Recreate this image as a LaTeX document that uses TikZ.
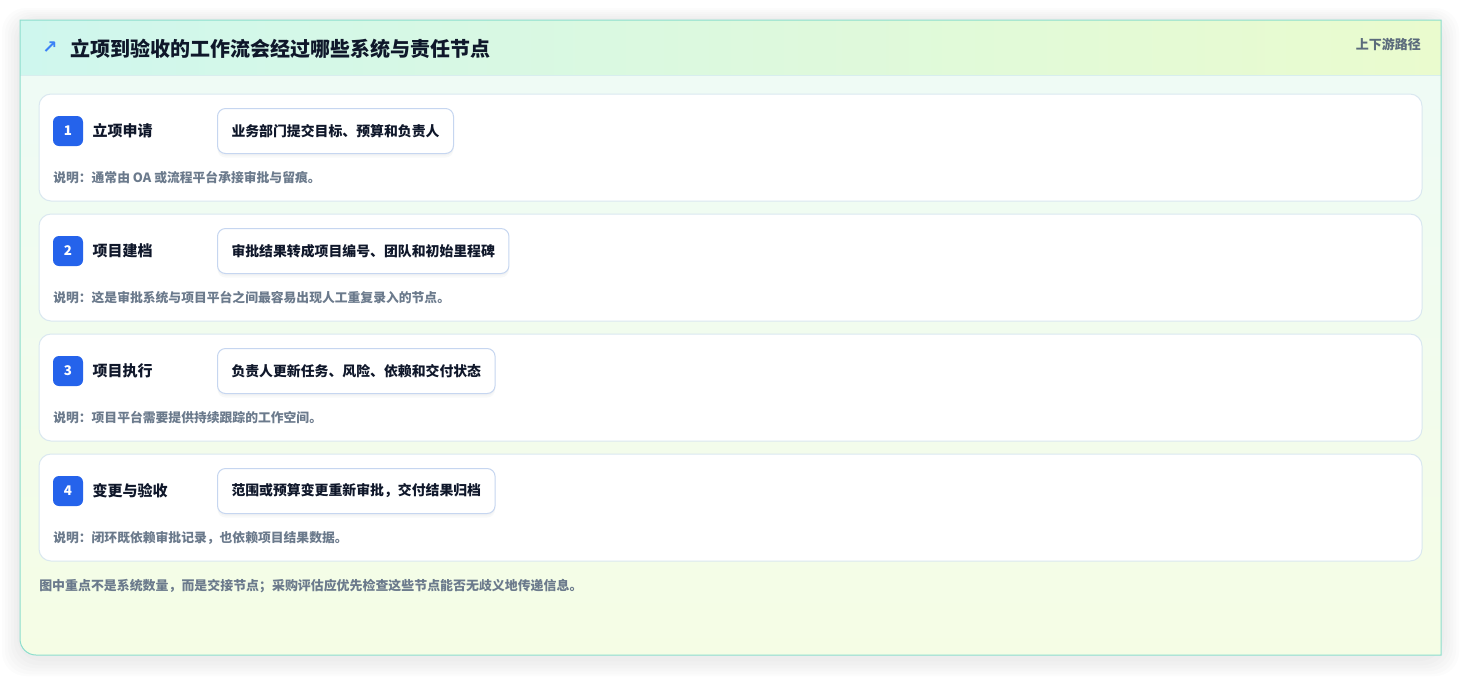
\documentclass[tikz,border=0pt]{standalone}
\usepackage{fontspec}
\setmainfont{Noto Sans CJK SC}
\newfontfamily\symfont{DejaVu Sans}
\usepackage{xcolor}
\usetikzlibrary{positioning}

\definecolor{cardline}{HTML}{8CDECD}
\definecolor{headleft}{HTML}{CFF7EE}
\definecolor{headright}{HTML}{EAFBCE}
\definecolor{bodytop}{HTML}{EEFBF7}
\definecolor{bodybottom}{HTML}{F5FDE5}
\definecolor{headrule}{HTML}{D8EEEE}
\definecolor{stepline}{HTML}{DAE8F0}
\definecolor{detailline}{HTML}{C6D6F0}
\definecolor{badgeblue}{HTML}{2563EB}
\definecolor{titleink}{HTML}{0F172A}
\definecolor{noteink}{HTML}{6B7A8C}
\definecolor{tagink}{HTML}{5B6B7C}
\definecolor{arrowblue}{HTML}{3B82F6}
\definecolor{shadowink}{HTML}{475569}

\newcommand{\cardoutline}{(20,300) -- (20,20) -- (1441,20) -- (1441,655) [rounded corners=12pt] -- (20,655) -- cycle}

\begin{document}
\begin{tikzpicture}[x=0.75pt,y=-0.75pt,
    cardshadow/.style={fill=shadowink, fill opacity=0.014, rounded corners=18pt},
    stepcard/.style={draw=stepline, fill=white, line width=0.75pt, rounded corners=9pt,
        minimum width=1037.25pt, minimum height=80.25pt, inner sep=0pt},
    badge/.style={fill=badgeblue, rounded corners=4.5pt, minimum size=22.5pt, inner sep=0pt,
        text=white, font=\fontsize{10}{12}\selectfont\bfseries},
    steplabel/.style={anchor=west, inner sep=0pt, text=titleink,
        font=\fontsize{11.25}{13}\selectfont\bfseries},
    detailbox/.style={anchor=west, draw=detailline, fill=white, line width=0.75pt, rounded corners=6pt,
        minimum height=33.75pt, inner xsep=10.5pt, text=titleink,
        font=\fontsize{10.4}{13}\selectfont\bfseries,
        preaction={fill=shadowink, fill opacity=0.035, draw=none, transform canvas={yshift=-3pt}},
        preaction={fill=shadowink, fill opacity=0.03, draw=none, transform canvas={yshift=-1.5pt}}},
    stepnote/.style={anchor=west, inner sep=0pt, text=noteink,
        font=\fontsize{9.6}{11}\selectfont\bfseries}]

    \useasboundingbox[fill=white] (0,0) rectangle (1462,676);

    % soft shadow under the card
    \fill[cardshadow] (2,8) rectangle (1459,676);
    \fill[cardshadow] (5,10) rectangle (1456,674);
    \fill[cardshadow] (8,12) rectangle (1453,671);
    \fill[cardshadow] (11,14) rectangle (1450,668);
    \fill[cardshadow] (14,16) rectangle (1447,665);
    \fill[cardshadow] (17,18) rectangle (1444,661);

    % card with header band
    \shade[top color=bodytop, bottom color=bodybottom] \cardoutline;
    \begin{scope}
        \clip \cardoutline;
        \shade[left color=headleft, right color=headright] (20,20) rectangle (1441,75);
    \end{scope}
    \draw[headrule, line width=0.75pt] (20,75) -- (1441,75);
    \draw[cardline, line width=0.75pt] \cardoutline;

    \node[text=arrowblue, inner sep=0pt, font=\symfont\bfseries\fontsize{13.5}{15}\selectfont] (arrow) at (50,48) {↗};
    \node[anchor=west, inner sep=0pt, text=titleink, font=\fontsize{15}{18}\selectfont\bfseries] (title) at (70,49) {立项到验收的工作流会经过哪些系统与责任节点};
    \node[anchor=east, inner sep=0pt, text=tagink, font=\fontsize{9.75}{12}\selectfont\bfseries] (tag) at (1421,44) {上下游路径};

    % step 1
    \node[stepcard] (card1) at (730.5,147.5) {};
    \node[badge] (badge1) at (68,131) {1};
    \node[steplabel, right=6.75pt of badge1] (label1) {立项申请};
    \node[detailbox] (detail1) at (217,131) {业务部门提交目标、预算和负责人};
    \node[stepnote] (note1) at (53,178) {说明：通常由 OA 或流程平台承接审批与留痕。};

    % step 2
    \node[stepcard] (card2) at (730.5,267.5) {};
    \node[badge] (badge2) at (68,251) {2};
    \node[steplabel, right=6.75pt of badge2] (label2) {项目建档};
    \node[detailbox] (detail2) at (217,251) {审批结果转成项目编号、团队和初始里程碑};
    \node[stepnote] (note2) at (53,298) {说明：这是审批系统与项目平台之间最容易出现人工重复录入的节点。};

    % step 3
    \node[stepcard] (card3) at (730.5,387.5) {};
    \node[badge] (badge3) at (68,371) {3};
    \node[steplabel, right=6.75pt of badge3] (label3) {项目执行};
    \node[detailbox] (detail3) at (217,371) {负责人更新任务、风险、依赖和交付状态};
    \node[stepnote] (note3) at (53,418) {说明：项目平台需要提供持续跟踪的工作空间。};

    % step 4
    \node[stepcard] (card4) at (730.5,507.5) {};
    \node[badge] (badge4) at (68,491) {4};
    \node[steplabel, right=6.75pt of badge4] (label4) {变更与验收};
    \node[detailbox] (detail4) at (217,491) {范围或预算变更重新审批，交付结果归档};
    \node[stepnote] (note4) at (53,538) {说明：闭环既依赖审批记录，也依赖项目结果数据。};

    \node[stepnote, font=\fontsize{9.7}{12}\selectfont\bfseries] (footer) at (39,586) {图中重点不是系统数量，而是交接节点；采购评估应优先检查这些节点能否无歧义地传递信息。};
\end{tikzpicture}
\end{document}
